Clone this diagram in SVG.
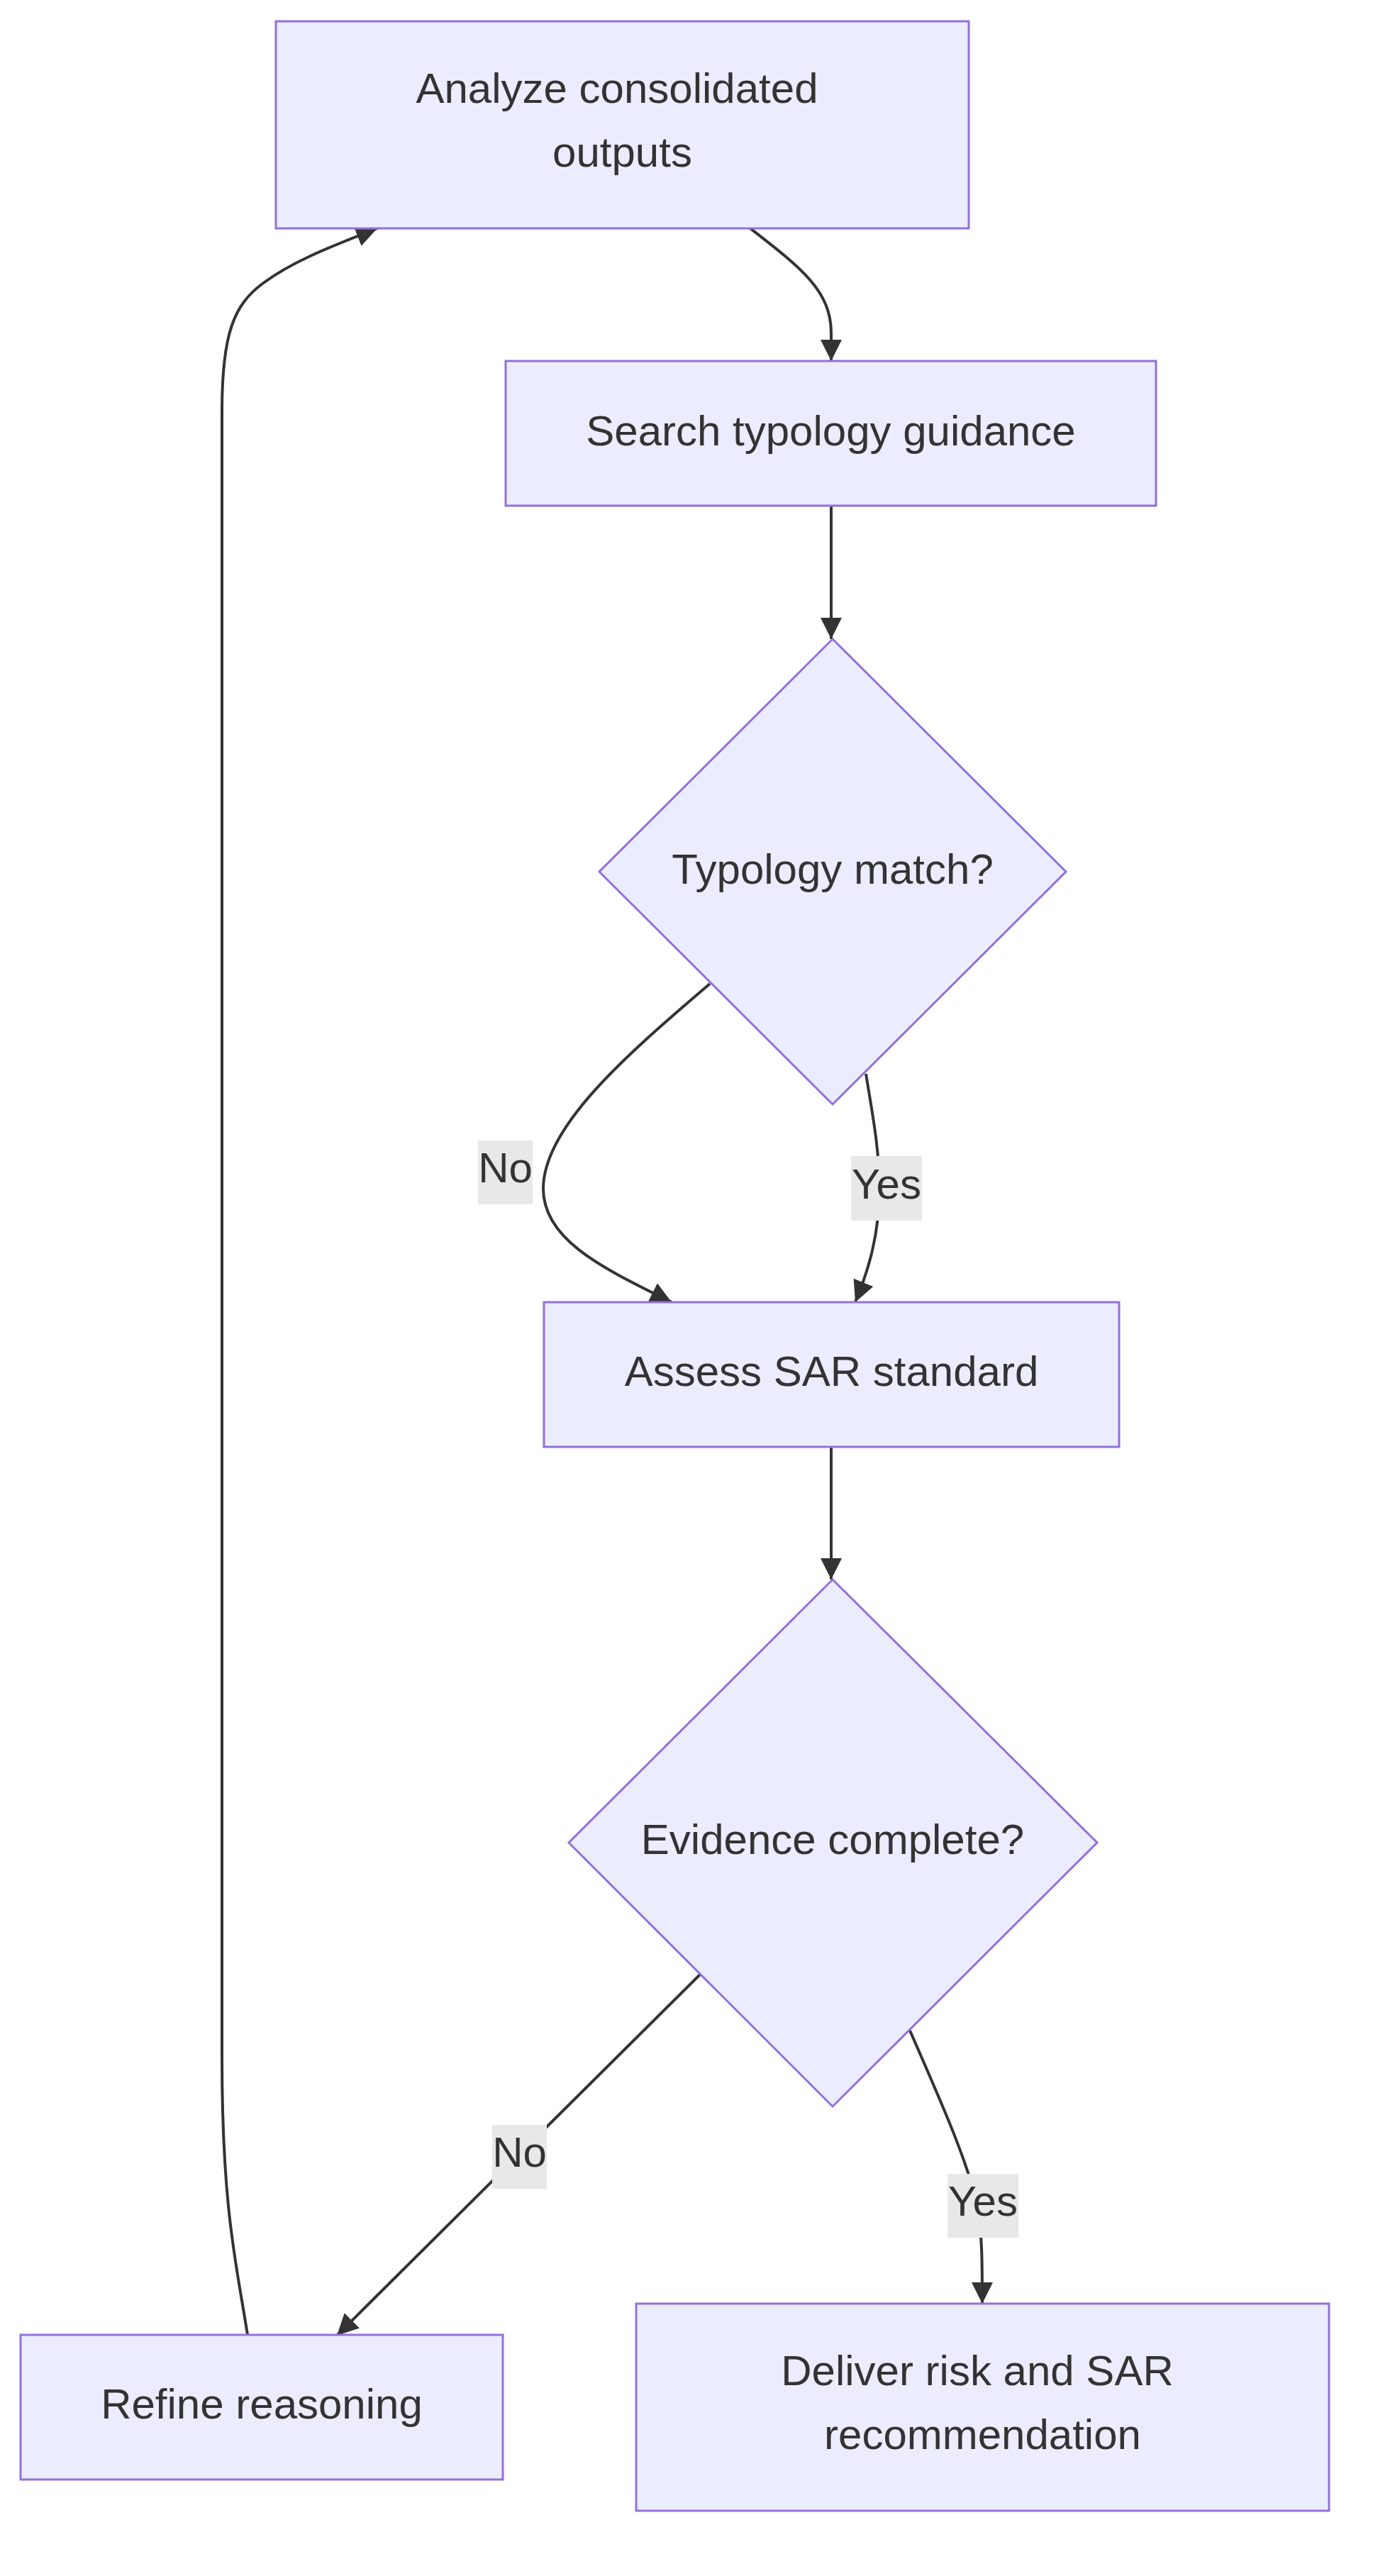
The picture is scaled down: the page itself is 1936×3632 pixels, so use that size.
<svg xmlns="http://www.w3.org/2000/svg" width="1936" height="3632" viewBox="0 0 1936 3632">
<style>
.node rect, .node polygon { fill: #ECECFF; stroke: #9370DB; stroke-width: 3; }
.t { font-family: "Liberation Sans", Arial, sans-serif; font-size: 60px; fill: #333333; text-anchor: middle; }
.edge { fill: none; stroke: #333333; stroke-width: 4; }
.lbl rect { fill: #e8e8e8; }
</style>
<defs>
<marker id="arr" markerUnits="userSpaceOnUse" markerWidth="30" markerHeight="30" refX="30" refY="15" orient="auto" viewBox="0 0 30 30">
<path d="M0,0 L30,15 L0,30 z" fill="#333333"/>
</marker>
</defs>
<rect width="1936" height="3632" fill="#ffffff"/>
<g id="connectors">
<path class="edge" d="M1058,322 C1130,378 1172,410 1172,470 L1172,509" marker-end="url(#arr)"/>
<path class="edge" d="M1172,713 L1172,901" marker-end="url(#arr)"/>
<path class="edge" d="M1001,1387 C880,1490 766,1590 766,1676 C766,1750 855,1790 947,1836" marker-end="url(#arr)"/>
<path class="edge" d="M1221,1514 C1230,1570 1240,1620 1240,1675 C1240,1740 1225,1790 1206,1836" marker-end="url(#arr)"/>
<path class="edge" d="M1172,2040 L1172,2227" marker-end="url(#arr)"/>
<path class="edge" d="M987,2784 L475,3293" marker-end="url(#arr)"/>
<path class="edge" d="M1283,2863 C1330,2970 1365,3050 1378,3110 C1385,3150 1385,3190 1385,3248" marker-end="url(#arr)"/>
<path class="edge" d="M349,3292 C335,3200 313,3120 313,2900 L313,580 C313,470 330,430 370,400 C410,370 460,350 532,322" marker-end="url(#arr)"/>
<g class="lbl">
<rect x="674" y="1608" width="77" height="90"/>
<text class="t" x="712.5" y="1667">No</text>
<rect x="1200" y="1630" width="100" height="91"/>
<text class="t" x="1250" y="1690">Yes</text>
<rect x="694" y="2996" width="77" height="90"/>
<text class="t" x="732.5" y="3055">No</text>
<rect x="1336" y="3065" width="100" height="90"/>
<text class="t" x="1386" y="3124">Yes</text>
</g>
</g>
<g id="analyze" class="node">
<rect x="389" y="30" width="977" height="292"/>
<text class="t" x="870" y="145">Analyze consolidated</text>
<text class="t" x="877.5" y="235">outputs</text>
</g>
<g id="search" class="node">
<rect x="713" y="509" width="917" height="204"/>
<text class="t" x="1171.5" y="628">Search typology guidance</text>
</g>
<g id="typology" class="node">
<polygon points="1174,901 1503,1229 1174,1557 845,1229"/>
<text class="t" x="1174" y="1246">Typology match?</text>
</g>
<g id="assess" class="node">
<rect x="767" y="1836" width="811" height="204"/>
<text class="t" x="1172.5" y="1954">Assess SAR standard</text>
</g>
<g id="evidence" class="node">
<polygon points="1174,2227 1547,2598 1174,2970 802,2598"/>
<text class="t" x="1174" y="2614">Evidence complete?</text>
</g>
<g id="refine" class="node">
<rect x="29" y="3292" width="680" height="204"/>
<text class="t" x="369" y="3410">Refine reasoning</text>
</g>
<g id="deliver" class="node">
<rect x="897" y="3248" width="977" height="292"/>
<text class="t" x="1378" y="3363">Deliver risk and SAR</text>
<text class="t" x="1385.5" y="3453">recommendation</text>
</g>
</svg>
